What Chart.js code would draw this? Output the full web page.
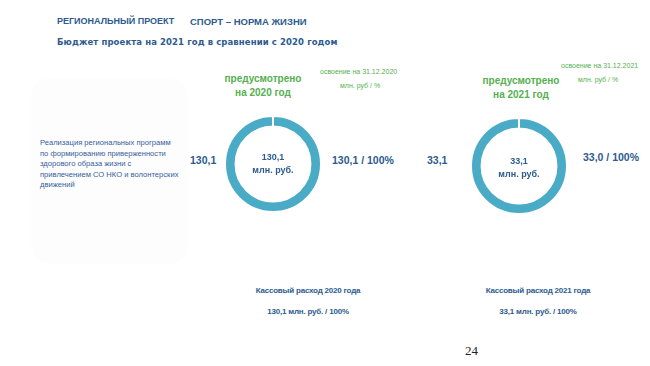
<!DOCTYPE html>
<html>
<head>
<meta charset="utf-8">
<script src="https://cdn.jsdelivr.net/npm/chart.js@4/dist/chart.umd.min.js"></script>
<style>
  body { margin: 0; width: 650px; height: 366px; background: #fff; position: relative; overflow: hidden; font-family: "Liberation Sans", Arial, sans-serif; }
  .t { position: absolute; white-space: nowrap; }
  .blue { color: #2d5b8f; font-weight: bold; }
  .green { color: #55b04f; font-weight: bold; }
  .card { position: absolute; left: 33px; top: 80px; width: 153px; height: 182px; border-radius: 16px; background: #fdfdfe; box-shadow: 0 0 5px rgba(0,0,0,0.025); }
  .donut { position: absolute; width: 110px; height: 110px; }
  .center { position: absolute; text-align: center; font-size: 9px; line-height: 13px; color: #2d5b8f; font-weight: bold; }
  .narrow { font-family: "Liberation Sans Narrow", "Liberation Sans", sans-serif; }
</style>
</head>
<body>
<div class="t blue" style="left:57px;top:16px;font-size:9px;">РЕГИОНАЛЬНЫЙ ПРОЕКТ</div>
<div class="t blue" style="left:190px;top:16px;font-size:9.5px;">СПОРТ – НОРМА ЖИЗНИ</div>
<div class="t blue" style="left:57px;top:37px;font-size:8.5px;font-family:'DejaVu Sans';letter-spacing:0.1px;">Бюджет проекта на 2021 год в сравнении с 2020 годом</div>

<div class="card"></div>
<div class="t blue" id="rowLabel" style="left:40px;top:138px;font-size:7.6px;line-height:10.5px;font-weight:normal;color:#35609a;"></div>

<div class="t blue" id="plan0" style="left:190px;top:154px;font-size:10.5px;"></div>
<div class="t blue" id="plan1" style="left:427px;top:154px;font-size:10.5px;"></div>
<div class="t blue" id="fact0" style="left:332px;top:154px;font-size:10.5px;"></div>
<div class="t blue" id="fact1" style="left:583px;top:151px;font-size:10.5px;"></div>

<div class="t green" style="left:223px;top:72px;width:80px;text-align:center;font-size:10px;line-height:14px;white-space:normal;">предусмотрено на 2020 год</div>
<div class="t green" style="left:476px;top:74px;width:90px;text-align:center;font-size:10px;line-height:14px;white-space:normal;">предусмотрено на 2021 год</div>
<div class="t green narrow" style="left:320px;top:68px;font-size:7px;font-weight:normal;">освоение на 31.12.2020</div>
<div class="t green narrow" style="left:340px;top:82px;font-size:7px;font-weight:normal;">млн. руб / %</div>
<div class="t green narrow" style="left:561px;top:62px;font-size:7px;font-weight:normal;">освоение на 31.12.2021</div>
<div class="t green narrow" style="left:578px;top:76px;font-size:7px;font-weight:normal;">млн. руб / %</div>

<div class="donut" style="left:218px;top:109px;"><canvas id="d0"></canvas></div>
<div class="donut" style="left:464px;top:111px;"><canvas id="d1"></canvas></div>
<div class="center" id="c0" style="left:243px;top:151px;width:60px;"></div>
<div class="center" id="c1" style="left:489px;top:155px;width:60px;"></div>

<div class="t blue narrow" id="cash0t" style="left:238px;top:286px;width:140px;text-align:center;font-size:8px;letter-spacing:-0.2px;"></div>
<div class="t blue narrow" id="cash0v" style="left:238px;top:307px;width:140px;text-align:center;font-size:8px;letter-spacing:-0.2px;"></div>
<div class="t blue narrow" id="cash1t" style="left:468px;top:286px;width:140px;text-align:center;font-size:8px;letter-spacing:-0.2px;"></div>
<div class="t blue narrow" id="cash1v" style="left:468px;top:307px;width:140px;text-align:center;font-size:8px;letter-spacing:-0.2px;"></div>

<div class="t" style="left:465px;top:343px;font-size:13px;font-family:'Liberation Serif',serif;color:#222;">24</div>

<script>
var years = ["2020", "2021"];
var planned = [130.1, 33.1];
var spent = [130.1, 33.0];
var spentPct = [100, 100];
var cashSpent = [130.1, 33.1];
var cashPct = [100, 100];
var rowLabel = ["Реализация региональных программ", "по формированию приверженности", "здорового образа жизни с", "привлечением СО НКО и волонтерских", "движений"];

function fmt(v) { return v.toFixed(1).replace(".", ","); }

document.getElementById("rowLabel").innerHTML = rowLabel.join("<br>");

for (var i = 0; i < years.length; i++) {
    document.getElementById("plan" + i).textContent = fmt(planned[i]);
    document.getElementById("fact" + i).textContent = fmt(spent[i]) + " / " + spentPct[i] + "%";
    document.getElementById("c" + i).innerHTML = fmt(planned[i]) + "<br>млн. руб.";
    document.getElementById("cash" + i + "t").textContent = "Кассовый расход " + years[i] + " года";
    document.getElementById("cash" + i + "v").textContent = fmt(cashSpent[i]) + " млн. руб. / " + cashPct[i] + "%";

    new Chart(document.getElementById("d" + i), {
        type: "doughnut",
        data: {
            labels: [years[i]],
            datasets: [{
                data: [planned[i]],
                backgroundColor: "#4aabc6",
                borderColor: "#ffffff",
                borderWidth: 2
            }]
        },
        options: {
            responsive: true,
            maintainAspectRatio: true,
            animation: false,
            cutout: "78%",
            layout: { padding: 6 },
            plugins: { legend: { display: false }, tooltip: { enabled: false } }
        }
    });
}
</script>
</body>
</html>
